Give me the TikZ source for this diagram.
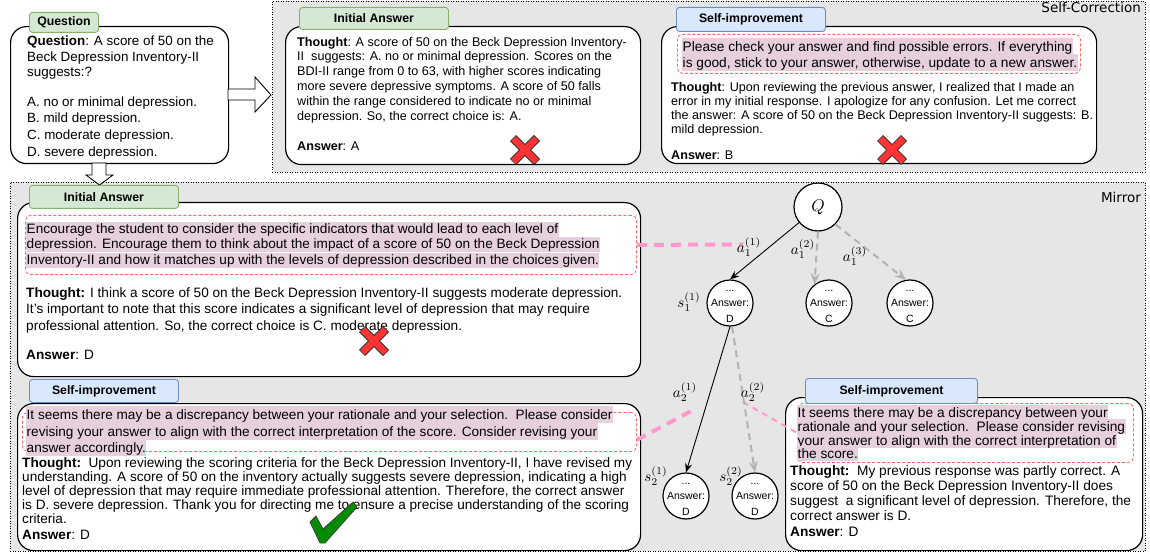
\documentclass[tikz,border=0pt]{standalone}
\usepackage[no-math]{fontspec}
\setmainfont{Liberation Sans}
\newfontfamily\labfont{DejaVu Sans}
\usetikzlibrary{arrows.meta}
\definecolor{regfill}{RGB}{230,230,230}
\definecolor{tgfill}{RGB}{213,232,212}
\definecolor{tgdraw}{RGB}{130,179,102}
\definecolor{tbfill}{RGB}{218,232,252}
\definecolor{tbdraw}{RGB}{108,142,191}
\definecolor{hlc}{RGB}{230,208,222}
\definecolor{dred}{RGB}{255,102,102}
\definecolor{pinkl}{RGB}{255,153,204}
\definecolor{arrgray}{RGB}{179,179,179}
\definecolor{xred}{RGB}{255,51,51}
\definecolor{chkgreen}{RGB}{0,140,0}
\newcommand\txtlines[4]{\foreach \yy/\ltxt [count=\i] in {#4}{\node[ln,#3] (#1\i) at (#2,\yy) {\ltxt};}}
\newcommand\mlab[1]{\scalebox{1.5}{$#1$}}
\newcommand\crossmark[2]{%
  \begin{scope}[shift={(#1,#2)}]
    \draw[line width=8.5pt, black!80] (-12,-12) -- (12,12) (-12,12) -- (12,-12);
    \draw[line width=6.5pt, xred] (-11.4,-11.4) -- (11.4,11.4) (-11.4,11.4) -- (11.4,-11.4);
  \end{scope}}
\begin{document}
\begin{tikzpicture}[x=1pt,y=-1pt,
  region/.style={draw=black, fill=regfill, line width=0.8pt, dash pattern=on 1pt off 1.5pt, anchor=north west, inner sep=0},
  box/.style={draw=black, fill=white, rounded corners=16pt, line width=1.2pt, anchor=north west, inner sep=0},
  tag/.style={rounded corners=3pt, line width=0.9pt, anchor=north west, inner sep=0, font=\fontsize{12.3}{14}\selectfont\bfseries},
  gtag/.style={tag, fill=tgfill, draw=tgdraw},
  btag/.style={tag, fill=tbfill, draw=tbdraw},
  dbox/.style={draw=dred, dash pattern=on 3pt off 2pt, rounded corners=5pt, line width=0.8pt, anchor=north west, inner sep=0},
  ln/.style={anchor=base west, inner sep=0},
  hl/.style={fill=hlc, inner xsep=0.5pt},
  harrow/.style={draw=black, fill=white, line width=0.9pt, line join=miter},
  circ/.style={circle, draw=black, fill=white, line width=1.2pt, minimum size=46pt, inner sep=0},
  ctext/.style={align=center, inner sep=0, font=\fontsize{10.5}{15.5}\selectfont},
  lab/.style={inner sep=0},
  rlab/.style={anchor=north east, inner sep=0, font=\labfont\fontsize{13.5}{14}\selectfont},
  blk/.style={-{Stealth[length=9pt,width=7pt]}, black, line width=0.9pt},
  gry/.style={-{Stealth[length=11pt,width=9pt]}, arrgray, line width=2pt, dash pattern=on 7pt off 5pt},
  pk/.style={pinkl, line width=4pt, dash pattern=on 10pt off 7pt},
  pkt/.style={pinkl, line width=2pt, dash pattern=on 6pt off 5pt}
]
\useasboundingbox (0,0) rectangle (1150,553);

% regions
\node[region, minimum width=873pt, minimum height=171pt] (screg) at (272,1) {};
\node[region, minimum width=1135pt, minimum height=369pt] (mireg) at (10,182) {};
\node[rlab] (sclab) at (1141,2) {Self-Correction};
\node[rlab] (milab) at (1141,192) {Mirror};

% boxes
\node[box, minimum width=218pt, minimum height=137pt] (qbox) at (10,26) {};
\node[box, minimum width=355pt, minimum height=138pt] (ibox) at (285,26) {};
\node[box, minimum width=435pt, minimum height=137pt] (sbox) at (661,26) {};
\node[box, minimum width=623pt, minimum height=174pt] (mibox) at (17,202) {};
\node[box, minimum width=623pt, minimum height=147pt] (msbox) at (17,403) {};
\node[box, minimum width=357pt, minimum height=153pt] (mrbox) at (785,397) {};

% hollow arrows
\draw[harrow] (228,89) -- (255,89) -- (255,77) -- (271,95) -- (255,112) -- (255,100) -- (228,100) -- cycle;
\draw[harrow] (92,163) -- (106,163) -- (106,175) -- (113,175) -- (99.5,185) -- (86,175) -- (92,175) -- cycle;

% dashed prompt boxes
\node[dbox, minimum width=403pt, minimum height=39pt] (db0) at (677,34) {};
\node[dbox, minimum width=611pt, minimum height=59pt] (db1) at (25,215) {};
\node[dbox, minimum width=614pt, minimum height=39pt] (db2) at (22,412) {};
\node[dbox, minimum width=336pt, minimum height=59pt] (db3) at (797,403) {};

% question text
\txtlines{qt}{27}{font=\fontsize{13.4}{16}\selectfont}{45.3/{\textbf{Question}: A score of 50 on the}, 61.3/{Beck Depression Inventory-II}, 76.3/{suggests:?}, 106.3/{A. no or minimal depression.}, 122.3/{B. mild depression.}, 139.3/{C. moderate depression.}, 156.3/{D. severe depression.}}

% top initial answer
\txtlines{it}{297}{font=\fontsize{12.6}{15}\selectfont}{47/{\textbf{Thought}: A score of 50 on the Beck Depression Inventory-}, 61/{II\ \ suggests: A. no or minimal depression. Scores on the}, 76/{BDI-II range from 0 to 63, with higher scores indicating}, 91/{more severe depressive symptoms. A score of 50 falls}, 106/{within the range considered to indicate no or minimal}, 121/{depression. So, the correct choice is: A.}, 151/{\textbf{Answer}: A}}

% top self-improvement
\txtlines{sh}{682}{hl, font=\fontsize{13.7}{16}\selectfont, text height=13.4pt, text depth=3.6pt}{51.4/{Please check your answer and find possible errors. If everything}, 67.4/{is good, stick to your answer, otherwise, update to a new answer.}}
\txtlines{st}{671}{font=\fontsize{12.6}{14}\selectfont}{92/{\textbf{Thought}: Upon reviewing the previous answer, I realized that I made an}, 106/{error in my initial response. I apologize for any confusion. Let me correct}, 120/{the answer: A score of 50 on the Beck Depression Inventory-II suggests: B.}, 133.5/{mild depression.}, 159.5/{\textbf{Answer}: B}}

% mirror initial answer
\txtlines{mh}{26}{hl, font=\fontsize{13.6}{15}\selectfont, text height=11.5pt, text depth=4pt}{233.4/{Encourage the student to consider the specific indicators that would lead to each level of}, 248.4/{depression. Encourage them to think about the impact of a score of 50 on the Beck Depression}, 264.4/{Inventory-II and how it matches up with the levels of depression described in the choices given.}}
\txtlines{mt}{26}{font=\fontsize{13.6}{16}\selectfont}{297.4/{\textbf{Thought:} I think a score of 50 on the Beck Depression Inventory-II suggests moderate depression.}, 313.4/{It's important to note that this score indicates a significant level of depression that may require}, 330.4/{professional attention. So, the correct choice is C. moderate depression.}, 359.4/{\textbf{Answer}: D}}

% mirror self-improvement (left)
\txtlines{lh}{26}{hl, font=\fontsize{13.6}{16}\selectfont, text height=13pt, text depth=3.6pt}{419.4/{It seems there may be a discrepancy between your rationale and your selection.\ \ Please consider}, 436.4/{revising your answer to align with the correct interpretation of the score. Consider revising your}, 452.4/{answer accordingly.}}
\txtlines{lt}{22}{font=\fontsize{13.6}{14}\selectfont}{467.4/{\textbf{Thought:}\ \ Upon reviewing the scoring criteria for the Beck Depression Inventory-II, I have revised my}, 481.4/{understanding. A score of 50 on the inventory actually suggests severe depression, indicating a high}, 495.4/{level of depression that may require immediate professional attention. Therefore, the correct answer}, 509.4/{is D. severe depression. Thank you for directing me to ensure a precise understanding of the scoring}, 523.4/{criteria.}, 539.4/{\textbf{Answer}: D}}

% mirror self-improvement (right)
\txtlines{rh}{797}{hl, font=\fontsize{13.7}{14}\selectfont, text height=12.2pt, text depth=2.5pt}{417.4/{It seems there may be a discrepancy between your}, 431.4/{rationale and your selection.\ \ Please consider revising}, 445.4/{your answer to align with the correct interpretation of}, 458.4/{the score.}}
\txtlines{rt}{790}{font=\fontsize{13.7}{15}\selectfont}{475.4/{\textbf{Thought:}\ \ My previous response was partly correct. A}, 490.4/{score of 50 on the Beck Depression Inventory-II does}, 505.4/{suggest\ \ a significant level of depression. Therefore, the}, 520.4/{correct answer is D.}, 536.4/{\textbf{Answer}: D}}

% tags
\node[gtag, minimum width=69pt, minimum height=20pt] (tq) at (29,12) {Question};
\node[gtag, minimum width=149pt, minimum height=22pt] (ti) at (299,7) {Initial Answer};
\node[btag, minimum width=149pt, minimum height=24pt] (ts) at (676,7) {Self-improvement};
\node[gtag, minimum width=149pt, minimum height=23pt] (tmi) at (29,185) {Initial Answer};
\node[btag, minimum width=149pt, minimum height=23pt] (tms) at (29,379) {Self-improvement};
\node[btag, minimum width=172pt, minimum height=25pt] (tmr) at (805,378) {Self-improvement};

% tree
\coordinate (p1e) at (743,244.5);
\coordinate (p2e) at (697,408);
\coordinate (p3s) at (743,402);
\draw[pk] (db1.east) -- (p1e);
\draw[pk] ([yshift=-8pt]db2.east) -- (p2e);
\draw[pkt] (p3s) -- (db3.west);

\node[circ, minimum size=48pt] (Q) at (818,207) {\scalebox{1.7}{$Q$}};
\node[circ] (s1) at (730,303) {};
\node[circ] (c1) at (829,303) {};
\node[circ] (c2) at (910,303) {};
\node[circ] (s2a) at (686,496) {};
\node[circ] (s2b) at (755,496) {};

\draw[blk] (Q) -- (s1.north);
\draw[gry] (Q.south) -- (c1.128);
\draw[gry] (Q.-45) -- (c2.100);
\draw[blk] (s1.south) -- (s2a.north);
\draw[gry] (s1.-85) -- (s2b.north);

\node[ctext] (s1t) at (730,306) {...\\Answer:\\D};
\node[ctext] (c1t) at (829,306) {...\\Answer:\\C};
\node[ctext] (c2t) at (910,306) {...\\Answer:\\C};
\node[ctext] (s2at) at (686,499) {...\\Answer:\\D};
\node[ctext] (s2bt) at (755,499) {...\\Answer:\\D};

\node[lab] (la11) at (749,247) {\mlab{a_1^{(1)}}};
\node[lab] (la12) at (803,249) {\mlab{a_1^{(2)}}};
\node[lab] (la13) at (855,256) {\mlab{a_1^{(3)}}};
\node[lab] (ls11) at (689,302) {\mlab{s_1^{(1)}}};
\node[lab] (la21) at (685,392) {\mlab{a_2^{(1)}}};
\node[lab] (la22) at (753,392) {\mlab{a_2^{(2)}}};
\node[lab] (ls21) at (656,476) {\mlab{s_2^{(1)}}};
\node[lab] (ls22) at (731,476) {\mlab{s_2^{(2)}}};

% marks
\crossmark{525}{150}
\crossmark{892}{150}
\crossmark{374}{341}
\draw[fill=chkgreen, draw=black!75, line width=0.8pt, line join=round] (310,522) -- (316,516) -- (323,529) -- (353,502) -- (357,507) -- (325,543) -- (320,543) -- cycle;
\end{tikzpicture}
\end{document}
